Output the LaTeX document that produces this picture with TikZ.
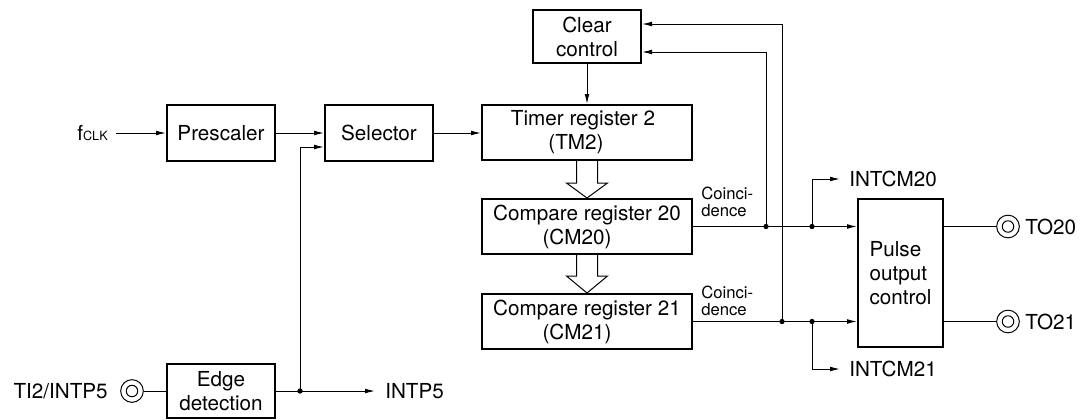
\documentclass[tikz,border=0pt]{standalone}
\usepackage{fontspec}
\setmainfont{TeX Gyre Heros}
\usetikzlibrary{arrows.meta,calc}
\begin{document}
\begin{tikzpicture}[x=0.75pt,y=-0.75pt,
  every node/.style={font=\fontsize{15.5}{18}\selectfont},
  box/.style={draw,line width=1.5pt,inner sep=0pt,align=center,minimum width=81pt,minimum height=42pt},
  wide/.style={box,minimum width=157.5pt,minimum height=41.25pt},
  ln/.style={line width=0.75pt},
  arr/.style={ln,-{Latex[length=7.5pt,width=3.6pt]}},
  small/.style={font=\fontsize{12.5}{13.2}\selectfont,align=left,inner sep=0pt},
  dot/.style={circle,fill,inner sep=0pt,minimum size=4pt},
  term/.style={circle,draw,line width=0.75pt,minimum size=17pt,inner sep=0pt}
]
\useasboundingbox (0,0) rectangle (1081,419);

% boxes
\node[box] (pre) at (221,133) {Prescaler};
\node[box] (sel) at (379,133) {Selector};
\node[wide] (tm) at (587,132.5) {Timer register 2\hspace*{6pt}\\(TM2)\hspace*{16.5pt}};
\node[box,minimum height=39.75pt] (clr) at (587,36.5) {Clear\\control};
\node[wide] (cm20) at (587,226.5) {Compare register 20\\(CM20)\hspace*{15pt}};
\node[wide] (cm21) at (587,321.5) {Compare register 21\\(CM21)\hspace*{15pt}};
\node[box,minimum width=63.75pt,minimum height=111pt,align=left] (poc) at (900.5,273) {Pulse\\output\\control};
\node[box,minimum height=40.5pt] (edge) at (221,391) {Edge\\detection};

% input side
\node[anchor=east,inner xsep=6pt,inner ysep=0pt] (fclk) at (116,133) {f{\fontsize{9.5}{10}\selectfont CLK}};
\draw[arr] (fclk.east) -- (pre.west);
\draw[arr] (pre) -- (sel);
\draw[arr] (sel.east) -- (sel.east -| tm.west);
\draw[arr] (clr) -- (tm);

\node[term] (ti) at (132,391) {};
\draw[ln] (ti.center) circle[radius=4.3pt];
\node[anchor=east,inner sep=0pt] (tilbl) at (108,391) {TI2/INTP5};
\draw[ln] (ti) -- (edge);
\node[anchor=west,inner xsep=7.5pt,inner ysep=0pt] (intp5) at (375,391) {INTP5};
\draw[arr] (edge.east) -- (intp5.west);
\coordinate (j5) at (300,391);
\node[dot] at (j5) {};
\draw[arr] (j5) |- ($(sel.west)+(0,14)$);

% hollow arrows
\draw[ln,fill=white] ($(tm.south)+(-10.5,0)$) -- ($(tm.south)+(-10.5,22)$) -- ($(tm.south)+(-20.5,22)$) -- (cm20.north) -- ($(tm.south)+(20.5,22)$) -- ($(tm.south)+(10.5,22)$) -- ($(tm.south)+(10.5,0)$);
\draw[ln,fill=white] ($(cm20.south)+(-10.5,0)$) -- ($(cm20.south)+(-10.5,21)$) -- ($(cm20.south)+(-20.5,21)$) -- (cm21.north) -- ($(cm20.south)+(20.5,21)$) -- ($(cm20.south)+(10.5,21)$) -- ($(cm20.south)+(10.5,0)$);

% coincidence
\node[small,anchor=west] (co20) at (701,202) {Coinci-\\dence};
\node[small,anchor=west] (co21) at (701,301) {Coinci-\\dence};

\coordinate (a1) at (766,226.5);
\coordinate (b1) at (812,226.5);
\coordinate (a2) at (782,321.5);
\coordinate (b2) at (812,321.5);
\draw[arr] (cm20.east) -- (cm20.east -| poc.west);
\draw[arr] (cm21.east) -- (cm21.east -| poc.west);
\draw[arr] (a1) |- ($(clr.east)+(0,15.5)$);
\draw[arr] (a2) |- ($(clr.east)+(0,-12.5)$);
\foreach \p in {a1,b1,a2,b2} \node[dot] at (\p) {};

\node[anchor=west,inner xsep=6.75pt,inner ysep=0pt] (int20) at (840,179) {INTCM20};
\node[anchor=west,inner xsep=6.75pt,inner ysep=0pt] (int21) at (840,369) {INTCM21};
\draw[arr] (b1) |- (int20.west);
\draw[arr] (b2) |- (int21.west);

% outputs
\node[term] (to20) at (1008,226.5) {};
\draw[ln] (to20.center) circle[radius=4.3pt];
\node[term] (to21) at (1008,321.5) {};
\draw[ln] (to21.center) circle[radius=4.3pt];
\draw[ln] (cm20.east -| poc.east) -- (to20);
\draw[ln] (cm21.east -| poc.east) -- (to21);
\node[anchor=west,inner sep=0pt] (to20l) at (1025,226.5) {TO20};
\node[anchor=west,inner sep=0pt] (to21l) at (1025,321.5) {TO21};
\end{tikzpicture}
\end{document}
